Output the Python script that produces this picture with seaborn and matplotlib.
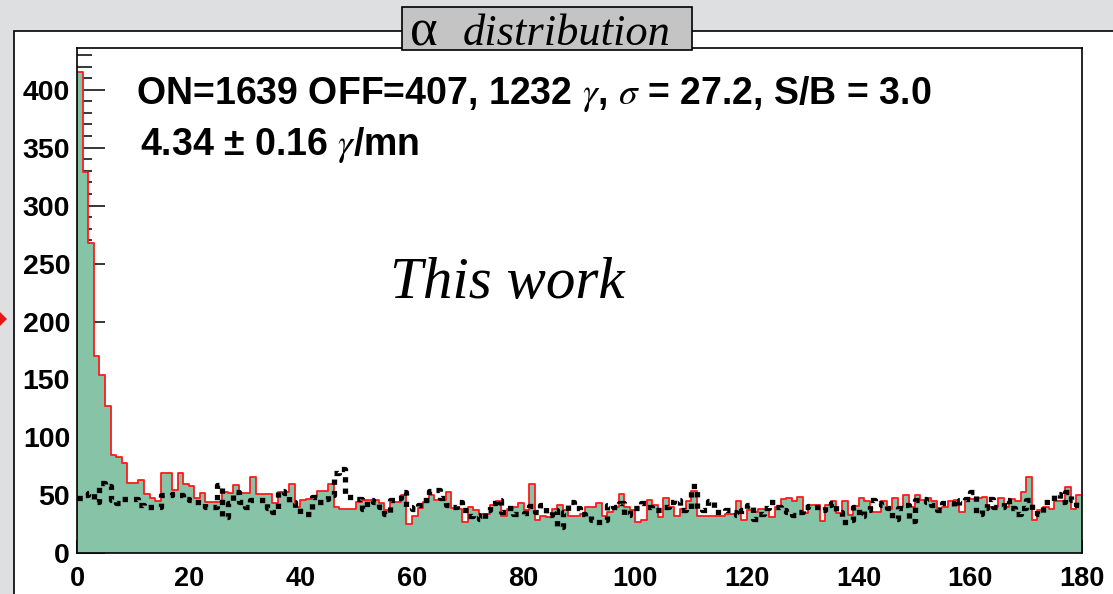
import numpy as np
import pandas as pd
import matplotlib
matplotlib.use("Agg")
import matplotlib.pyplot as plt
from matplotlib.patches import Rectangle, Polygon
from matplotlib.ticker import MultipleLocator
import seaborn as sns

# alpha histogram, 1-degree bins from 0 to 180
alpha_range = (0, 180)
alpha_binwidth = 1
alpha_centers = np.arange(0, 180) + 0.5

on_counts = [
    415, 329, 268, 170, 154, 127, 85, 83, 78, 61,
    61, 63, 51, 48, 45, 69, 69, 55, 69, 60,
    58, 48, 52, 44, 44, 44, 53, 52, 59, 52,
    52, 66, 51, 51, 51, 43, 53, 53, 60, 40,
    46, 47, 49, 54, 54, 60, 40, 38, 38, 38,
    44, 46, 46, 46, 43, 37, 44, 44, 50, 25,
    32, 39, 44, 50, 46, 46, 53, 39, 38, 27,
    40, 37, 34, 34, 42, 45, 32, 38, 40, 43,
    37, 60, 29, 32, 31, 38, 42, 37, 32, 32,
    34, 40, 40, 43, 32, 36, 40, 51, 40, 37,
    27, 29, 46, 42, 31, 48, 40, 32, 38, 45,
    54, 32, 32, 32, 32, 32, 34, 34, 45, 29,
    37, 36, 38, 38, 31, 40, 47, 48, 45, 49,
    35, 42, 42, 28, 42, 45, 35, 45, 33, 41,
    48, 45, 36, 36, 45, 38, 48, 40, 50, 40,
    50, 46, 48, 45, 39, 40, 45, 46, 36, 48,
    47, 48, 49, 40, 40, 48, 40, 47, 45, 53,
    66, 29, 37, 40, 38, 45, 45, 57, 38, 50,
]

off_counts = [
    48, 50, 52, 44, 61, 58, 46, 43, 47, 47,
    47, 42, 40, 40, 40, 50, 50, 51, 50, 47,
    46, 44, 44, 40, 40, 59, 31, 43, 53, 44,
    40, 46, 46, 46, 39, 36, 54, 52, 44, 39,
    34, 34, 49, 44, 47, 50, 69, 73, 49, 49,
    47, 38, 46, 44, 40, 34, 46, 48, 53, 40,
    38, 42, 46, 54, 55, 48, 42, 40, 44, 37,
    32, 33, 30, 37, 43, 46, 36, 39, 34, 34,
    35, 41, 36, 42, 33, 37, 23, 36, 44, 39,
    34, 32, 29, 27, 29, 42, 40, 43, 33, 39,
    39, 43, 40, 37, 37, 40, 44, 46, 37, 38,
    58, 38, 37, 45, 36, 36, 37, 36, 33, 37,
    42, 30, 34, 39, 44, 40, 37, 36, 33, 36,
    40, 41, 40, 37, 42, 43, 36, 27, 29, 40,
    32, 37, 46, 43, 42, 39, 30, 39, 42, 28,
    46, 47, 44, 42, 37, 43, 43, 41, 46, 47,
    53, 34, 39, 47, 40, 40, 46, 39, 34, 39,
    46, 37, 34, 44, 44, 51, 44, 53, 46, 42,
]

x_ticks = [0, 20, 40, 60, 80, 100, 120, 140, 160, 180]
y_ticks = [0, 50, 100, 150, 200, 250, 300, 350, 400]

stats_line = r"ON=1639 OFF=407, 1232 $\gamma$, $\sigma$ = 27.2, S/B = 3.0"
rate_line = "4.34 \u00b1 0.16 $\\gamma$/mn"

df = pd.DataFrame({"alpha": alpha_centers, "on": on_counts, "off": off_counts})

sns.set_theme(style="white")
plt.rcParams["font.family"] = ["Liberation Sans", "DejaVu Sans"]
plt.rcParams["mathtext.fontset"] = "stix"
plt.rcParams["text.color"] = "black"

W, H = 1113, 594
fig = plt.figure(figsize=(W / 100, H / 100), dpi=100)
fig.patch.set_facecolor("#dedfe0")


def fx(px):
    return px / W


def fy(py):
    return 1 - py / H


# white canvas with its top/left border
fig.patches.append(Rectangle((fx(14), -0.05), 1.2, fy(31) + 0.05, transform=fig.transFigure,
                             facecolor="white", edgecolor="black", lw=1.2, zorder=-2))
# small red pointer at the left border
fig.patches.append(Polygon([(0, fy(312)), (fx(7), fy(319)), (0, fy(326))], closed=True,
                           transform=fig.transFigure, facecolor="#e81818", edgecolor="none",
                           zorder=-1))

ax = fig.add_axes([fx(77), fy(553.3), fx(1082) - fx(77), fy(48) - fy(553.3)])
ax.set_zorder(1)
ax.set_facecolor("white")

green = "#86c3a7"
hist_kws = dict(data=df, x="alpha", binwidth=alpha_binwidth, binrange=alpha_range,
                element="step", ax=ax)
sns.histplot(weights="on", fill=True, color=green, alpha=1, linewidth=0, **hist_kws)
sns.histplot(weights="on", fill=False, color="#ff1a1a", linewidth=1.3, **hist_kws)
sns.histplot(weights="off", fill=False, color="black", linewidth=3.8,
             linestyle=(0, (1, 1.15)), **hist_kws)

ax.set_xlim(0, 180)
ax.set_ylim(0, 436)
ax.set_xlabel("")
ax.set_ylabel("")
ax.set_xticks(x_ticks)
ax.set_yticks(y_ticks)
ax.xaxis.set_minor_locator(MultipleLocator(5))
ax.yaxis.set_minor_locator(MultipleLocator(10))
ax.tick_params(axis="both", which="both", direction="in", colors="black",
               top=False, right=False, bottom=True, left=True)
ax.tick_params(axis="y", which="major", length=20, width=1.1, pad=5, labelsize=20.5)
ax.tick_params(axis="y", which="minor", length=10.5, width=1.1)
ax.tick_params(axis="x", which="major", length=9.5, width=1.1, pad=9, labelsize=19.5)
ax.tick_params(axis="x", which="minor", length=5, width=1.1)
for lab in ax.get_xticklabels() + ax.get_yticklabels():
    lab.set_fontweight("bold")
for sp in ax.spines.values():
    sp.set_color("black")
    sp.set_linewidth(1.2)
    sp.set_visible(True)

# statistics text
fig.text(fx(136), fy(104), stats_line, fontsize=27, fontweight="bold", va="baseline", zorder=3)
fig.text(fx(140), fy(155), rate_line, fontsize=27, fontweight="bold", va="baseline", zorder=3)
fig.text(fx(390), fy(298), "This work", family="Liberation Serif", style="italic",
         fontsize=42.5, va="baseline", zorder=3)

# title box
fig.patches.append(Rectangle((fx(402), fy(50)), fx(692) - fx(402), fy(7) - fy(50),
                             transform=fig.transFigure, facecolor="#c4c4c4",
                             edgecolor="black", lw=1.2, zorder=5))
fig.text(fx(410), fy(45), "\u03b1", family="Liberation Serif", fontsize=38,
         va="baseline", zorder=6)
fig.text(fx(463), fy(45), "distribution", family="Liberation Serif", style="italic",
         fontsize=32, va="baseline", zorder=6)

fig.savefig("out.png", dpi=100, facecolor=fig.get_facecolor())
